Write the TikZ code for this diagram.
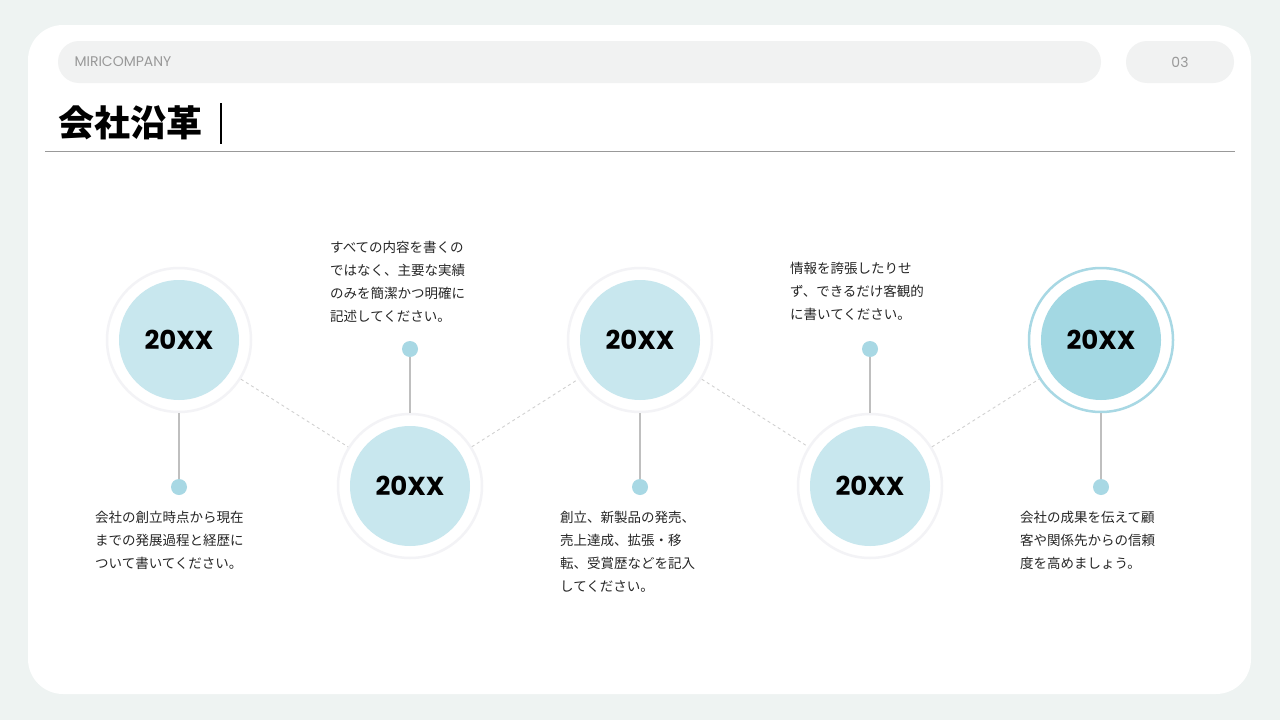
\documentclass[tikz,border=0pt]{standalone}
\usepackage{fontspec}
\setmainfont{Noto Sans CJK JP}
\newfontfamily\pop{Poppins}
\definecolor{bg}{HTML}{EEF3F2}
\definecolor{pill}{HTML}{F1F2F2}
\definecolor{cfill}{HTML}{C8E7EE}
\definecolor{cfill2}{HTML}{A3D8E3}
\definecolor{dotc}{HTML}{A8D8E4}
\definecolor{ring}{HTML}{F3F3F6}
\tikzset{
  outer/.style={circle,draw=ring,line width=2.5pt,fill=white,minimum size=144pt,inner sep=0},
  inner/.style={circle,fill=cfill,minimum size=120pt,inner sep=0,font=\pop\fontsize{26}{30}\selectfont\bfseries},
  dotn/.style={circle,fill=dotc,minimum size=16pt,inner sep=0},
  stem/.style={draw=black!25,line width=1.2pt},
  dashln/.style={draw=black!18,dashed,line width=0.9pt},
  desc/.style={align=left,font=\fontsize{13.5}{23}\selectfont,inner sep=0,text=black!85}
}
\begin{document}
\begin{tikzpicture}[x=1pt,y=-1pt]
\fill[bg] (0,0) rectangle (1280,720);
\useasboundingbox (0,0) rectangle (1280,720);
\fill[white,rounded corners=35pt] (28,25) rectangle (1251,694);
\fill[pill,rounded corners=21pt] (58,41) rectangle (1101,83);
\fill[pill,rounded corners=21pt] (1126,41) rectangle (1234,83);
\node[anchor=west,text=black!40,font=\pop\fontsize{14}{16}\selectfont] (co) at (71,62) {MIRICOMPANY};
\node[text=black!40,font=\pop\fontsize{14}{16}\selectfont] (pg) at (1180,62) {03};
\node[anchor=west,inner sep=0,font=\fontsize{36}{40}\selectfont\bfseries] (title) at (58,123) {会社沿革};
\draw[line width=1.2pt] (221,103) -- (221,144);
\draw[black!40,line width=0.8pt] (45,151) -- (1235,151);
\foreach \n/\x/\y in {a/179/340,b/410/486,c/640/340,d/870/486}{
  \node[outer] (o\n) at (\x,\y) {};
  \node[inner] (i\n) at (\x,\y) {20XX};
}
\node[outer,draw=dotc] (oe) at (1101,340) {};
\node[inner,fill=cfill2] (ie) at (1101,340) {20XX};
\draw[dashln] (oa) -- (ob); \draw[dashln] (ob) -- (oc); \draw[dashln] (oc) -- (od); \draw[dashln] (od) -- (oe);
\node[dotn] (da) at (179,487) {};
\node[dotn] (db) at (410,349) {};
\node[dotn] (dc) at (640,487) {};
\node[dotn] (dd) at (870,349) {};
\node[dotn] (de) at (1101,487) {};
\draw[stem] (oa) -- (da); \draw[stem] (ob) -- (db); \draw[stem] (oc) -- (dc);
\draw[stem] (od) -- (dd); \draw[stem] (oe) -- (de);
\node[desc,anchor=north west] (ta) at (95,511) {会社の創立時点から現在\\までの発展過程と経歴に\\ついて書いてください。};
\node[desc,anchor=north west] (tb) at (330,241) {すべての内容を書くの\\ではなく、主要な実績\\のみを簡潔かつ明確に\\記述してください。};
\node[desc,anchor=north west] (tc) at (560,511) {創立、新製品の発売、\\売上達成、拡張・移\\転、受賞歴などを記入\\してください。};
\node[desc,anchor=north west] (td) at (790,262) {情報を誇張したりせ\\ず、できるだけ客観的\\に書いてください。};
\node[desc,anchor=north west] (te) at (1020,511) {会社の成果を伝えて顧\\客や関係先からの信頼\\度を高めましょう。};
\end{tikzpicture}
\end{document}
